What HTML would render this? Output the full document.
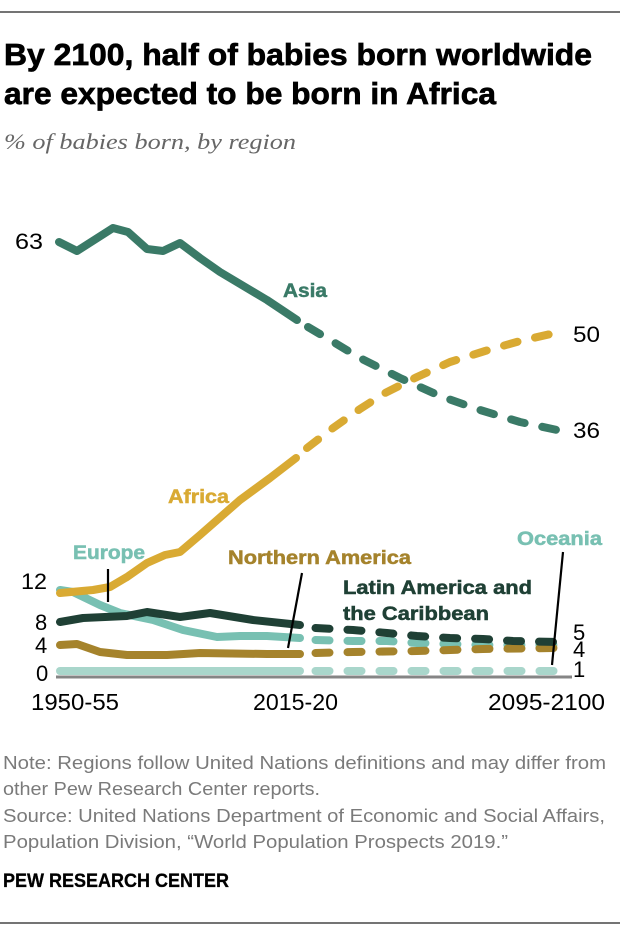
<!DOCTYPE html>
<html><head><meta charset="utf-8"><style>
html,body{margin:0;padding:0;background:#fff;}
svg{display:block;}
text{font-family:"Liberation Sans",sans-serif;}
</style></head><body>
<svg width="620" height="936" viewBox="0 0 620 936" xmlns="http://www.w3.org/2000/svg">
<rect width="620" height="936" fill="#fff"/>
<line x1="0" y1="12" x2="620" y2="12" stroke="#222" stroke-width="1.3"/>
<text x="4" y="65" font-size="31" font-weight="bold" fill="#000" stroke="#000" stroke-width="0.7" textLength="588" lengthAdjust="spacingAndGlyphs">By 2100, half of babies born worldwide</text>
<text x="4" y="104" font-size="31" font-weight="bold" fill="#000" stroke="#000" stroke-width="0.7" textLength="492" lengthAdjust="spacingAndGlyphs">are expected to be born in Africa</text>
<text x="4" y="149" font-size="22" font-style="italic" fill="#666" style="font-family:'Liberation Serif',serif" textLength="292" lengthAdjust="spacingAndGlyphs">% of babies born, by region</text>

<!-- baseline -->
<line x1="56" y1="677" x2="572" y2="677" stroke="#858585" stroke-width="3"/>

<g fill="none" stroke-width="8" stroke-linecap="round" stroke-linejoin="round">
<!-- Oceania -->
<path d="M60,671 L300,671" stroke="#a9d6cb"/>
<path d="M315.5,671 L557,671" stroke="#a9d6cb" stroke-dasharray="14 18"/>
<!-- Europe -->
<path d="M60,590 L73,592 L100,605 L120,613 L153,620 L183,630 L217,637 L240,636 L267,636 L300,638" stroke="#78c0b2"/>
<path d="M315.5,640 L353,641 L387,641 L417,643 L450,644 L483,645 L517,645 L557,645" stroke="#78c0b2" stroke-dasharray="14 18"/>
<!-- Northern America -->
<path d="M60,645 L77,644 L100,652 L127,655 L167,655 L200,653 L267,654 L300,654" stroke="#a5832c"/>
<path d="M315.5,653 L353,652 L417,651 L483,649 L557,648" stroke="#a5832c" stroke-dasharray="14 18"/>
<!-- Latin America -->
<path d="M60,622 L83,618 L127,616 L147,612 L180,617 L210,613 L253,620 L300,625" stroke="#1f4035"/>
<path d="M315.5,628 L353,630 L387,633 L417,636 L450,638 L483,639 L513,641 L557,642" stroke="#1f4035" stroke-dasharray="14 18"/>
<!-- Africa -->
<path d="M60,593 L93,590 L110,587 L127,577 L147,563 L165,555 L180,552 L200,535 L240,500 L270,478 L296,458" stroke="#d9aa33"/>
<path d="M307,448 L333,428 L360,409 L385,393 L417,377 L450,362 L485,351 L520,341 L555,333" stroke="#d9aa33" stroke-dasharray="14 18"/>
<!-- Asia -->
<path d="M59,242 L77,251 L113,228 L128,232 L147,249 L163,251 L180,243 L200,258 L220,272 L267,300 L297,320" stroke="#3a7a67"/>
<path d="M308,327 L330,340 L360,358 L400,378 L440,396 L480,410 L520,422 L557,430" stroke="#3a7a67" stroke-dasharray="14 18"/>
</g>

<!-- leader lines -->
<g stroke="#000" stroke-width="2.2">
<line x1="108" y1="569" x2="108" y2="602"/>
<line x1="302" y1="573" x2="288" y2="648"/>
<line x1="563" y1="552" x2="552" y2="665"/>
</g>

<!-- series labels -->
<g font-weight="bold" font-size="19" stroke-width="0.5">
<text x="283" y="297" fill="#3a7a67" stroke="#3a7a67" textLength="44" lengthAdjust="spacingAndGlyphs">Asia</text>
<text x="168" y="503" fill="#d9aa33" stroke="#d9aa33" textLength="61" lengthAdjust="spacingAndGlyphs">Africa</text>
<text x="73" y="559" fill="#78c0b2" stroke="#78c0b2" textLength="72" lengthAdjust="spacingAndGlyphs">Europe</text>
<text x="228" y="564" fill="#a5832c" stroke="#a5832c" textLength="183" lengthAdjust="spacingAndGlyphs">Northern America</text>
<text x="343" y="594" fill="#1f4035" stroke="#1f4035" textLength="189" lengthAdjust="spacingAndGlyphs">Latin America and</text>
<text x="343" y="620" fill="#1f4035" stroke="#1f4035" textLength="146" lengthAdjust="spacingAndGlyphs">the Caribbean</text>
<text x="517" y="545" fill="#78c0b2" stroke="#78c0b2" textLength="85" lengthAdjust="spacingAndGlyphs">Oceania</text>
</g>

<!-- axis numbers -->
<g font-size="22" fill="#000">
<text x="15" y="249" textLength="28" lengthAdjust="spacingAndGlyphs">63</text>
<text x="21" y="589" textLength="26" lengthAdjust="spacingAndGlyphs">12</text>
<text x="35" y="630">8</text>
<text x="35" y="653">4</text>
<text x="36" y="681">0</text>
<text x="573" y="342" textLength="27" lengthAdjust="spacingAndGlyphs">50</text>
<text x="573" y="438" textLength="27" lengthAdjust="spacingAndGlyphs">36</text>
<text x="573" y="640">5</text>
<text x="573" y="657">4</text>
<text x="573" y="677">1</text>
</g>
<g font-size="23" fill="#000">
<text x="31" y="710" textLength="88" lengthAdjust="spacingAndGlyphs">1950-55</text>
<text x="253" y="710" textLength="85" lengthAdjust="spacingAndGlyphs">2015-20</text>
<text x="488" y="710" textLength="117" lengthAdjust="spacingAndGlyphs">2095-2100</text>
</g>

<!-- notes -->
<g font-size="18" fill="#7a7a7a">
<text x="3" y="769" textLength="603" lengthAdjust="spacingAndGlyphs">Note: Regions follow United Nations definitions and may differ from</text>
<text x="3" y="795" textLength="317" lengthAdjust="spacingAndGlyphs">other Pew Research Center reports.</text>
<text x="3" y="822" textLength="602" lengthAdjust="spacingAndGlyphs">Source: United Nations Department of Economic and Social Affairs,</text>
<text x="3" y="848" textLength="505" lengthAdjust="spacingAndGlyphs">Population Division, “World Population Prospects 2019.”</text>
</g>
<text x="3" y="887" font-size="19" font-weight="bold" fill="#000" stroke="#000" stroke-width="0.3" textLength="226" lengthAdjust="spacingAndGlyphs">PEW RESEARCH CENTER</text>
<line x1="0" y1="923" x2="620" y2="923" stroke="#222" stroke-width="1.3"/>
</svg>
</body></html>
